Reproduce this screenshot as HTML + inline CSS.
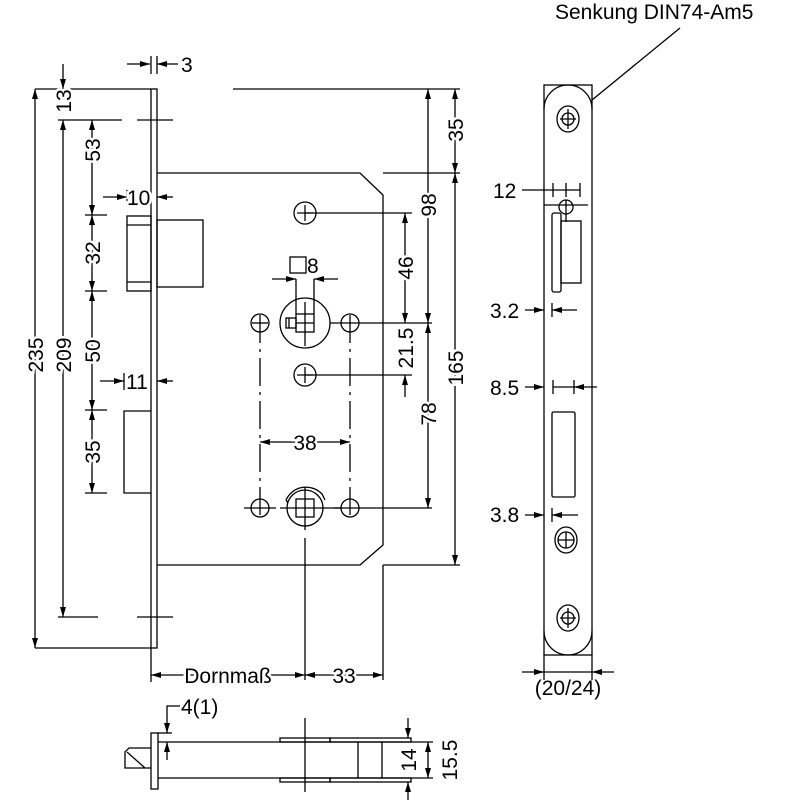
<!DOCTYPE html>
<html><head><meta charset="utf-8"><style>
html,body{margin:0;padding:0;background:#fff;}
svg{display:block;}
text{font-family:"Liberation Sans",sans-serif;font-size:21px;fill:#000;}
.t{paint-order:stroke;stroke:#fff;stroke-width:5px;}
</style></head><body>
<svg width="800" height="800" viewBox="0 0 800 800" xmlns="http://www.w3.org/2000/svg">
<defs>
<marker id="a" viewBox="0 0 10 6" refX="10" refY="3" markerWidth="10" markerHeight="6" markerUnits="userSpaceOnUse" orient="auto-start-reverse"><path d="M0,0 L10,3 L0,6z" fill="#000"/></marker>
</defs>
<g stroke="#000" stroke-width="1.3" fill="none">
<rect x="151" y="89" width="6" height="559"/>
<line x1="35" y1="648" x2="151" y2="648"/>
<line x1="35" y1="89" x2="151" y2="89"/>
<line x1="233" y1="89" x2="460" y2="89"/>
<path d="M157,173 H360 L383,195 V545 L360,565 H157"/>
<line x1="383" y1="173" x2="460" y2="173"/>
<line x1="383" y1="565" x2="460" y2="565"/>
<line x1="383" y1="565" x2="383" y2="680"/>
<rect x="127" y="216" width="24" height="75"/>
<line x1="127" y1="225" x2="151" y2="225"/><line x1="127" y1="282" x2="151" y2="282"/>
<rect x="157" y="220" width="46" height="67"/>
<path d="M151,411 H124 V493 H151"/>
<line x1="35" y1="89" x2="35" y2="648" marker-start="url(#a)" marker-end="url(#a)"/>
<line x1="63" y1="120" x2="63" y2="617" marker-start="url(#a)" marker-end="url(#a)"/>
<line x1="63" y1="64" x2="63" y2="89" marker-end="url(#a)"/>
<line x1="58" y1="120" x2="122" y2="120"/><line x1="137" y1="120" x2="173" y2="120"/>
<line x1="58" y1="617" x2="98" y2="617"/><line x1="137" y1="617" x2="173" y2="617"/>
<line x1="92" y1="120" x2="92" y2="215" marker-start="url(#a)" marker-end="url(#a)"/>
<line x1="92" y1="215" x2="92" y2="291" marker-start="url(#a)" marker-end="url(#a)"/>
<line x1="92" y1="291" x2="92" y2="410" marker-start="url(#a)" marker-end="url(#a)"/>
<line x1="92" y1="410" x2="92" y2="493" marker-start="url(#a)" marker-end="url(#a)"/>
<line x1="85" y1="215" x2="107" y2="215"/><line x1="85" y1="291" x2="107" y2="291"/>
<line x1="85" y1="410" x2="107" y2="410"/><line x1="85" y1="493" x2="107" y2="493"/>
<line x1="127" y1="64" x2="150" y2="64" marker-end="url(#a)"/>
<line x1="178" y1="64" x2="157" y2="64" marker-end="url(#a)"/>
<line x1="151" y1="56" x2="151" y2="74"/><line x1="157" y1="56" x2="157" y2="74"/>
<line x1="103" y1="197" x2="127" y2="197" marker-end="url(#a)"/>
<line x1="127" y1="190" x2="127" y2="205"/>
<line x1="173" y1="197" x2="157" y2="197" marker-end="url(#a)"/>
<line x1="100" y1="381" x2="124" y2="381" marker-end="url(#a)"/>
<line x1="124" y1="373" x2="124" y2="390"/>
<line x1="173" y1="381" x2="157" y2="381" marker-end="url(#a)"/>
<circle cx="305" cy="213" r="11"/><path d="M305,205v16M297,213h16"/>
<circle cx="305" cy="375" r="11"/><path d="M305,367v16M297,375h16"/>
<circle cx="260" cy="323" r="9"/><circle cx="350" cy="323" r="9"/>
<circle cx="260" cy="508" r="9"/><circle cx="350" cy="508" r="9"/>
<path d="M244,508h32M334,508h8"/>
<line x1="260" y1="315" x2="260" y2="520" stroke-dasharray="28,6,3,6"/>
<line x1="350" y1="315" x2="350" y2="520" stroke-dasharray="28,6,3,6"/>
<line x1="252" y1="323" x2="268" y2="323"/>
<line x1="305" y1="213" x2="412" y2="213"/>
<line x1="330" y1="323" x2="432" y2="323"/>
<line x1="305" y1="375" x2="412" y2="375"/>
<line x1="280" y1="508" x2="432" y2="508"/>
<circle cx="305" cy="323" r="25"/>
<rect x="296" y="314" width="18" height="18"/>
<path d="M305,302v44M296,323h18"/>
<rect x="286" y="318" width="10" height="10"/><line x1="289" y1="318" x2="289" y2="328"/>
<rect x="290" y="257" width="16" height="16"/>
<line x1="272" y1="279" x2="296" y2="279" marker-end="url(#a)"/>
<line x1="338" y1="279" x2="314" y2="279" marker-end="url(#a)"/>
<line x1="296" y1="279" x2="296" y2="314"/><line x1="314" y1="279" x2="314" y2="314"/>
<circle cx="305" cy="508" r="18"/>
<rect x="296" y="499" width="18" height="18"/>
<path d="M286,500 A22,22 0 0 1 322,494 L325,500"/>
<path d="M286,500 L288,503 M305,487 V530" />
<line x1="305" y1="538" x2="305" y2="680"/>
<line x1="260" y1="442" x2="350" y2="442" marker-start="url(#a)" marker-end="url(#a)"/>
<line x1="455" y1="89" x2="455" y2="173" marker-start="url(#a)" marker-end="url(#a)"/>
<line x1="455" y1="173" x2="455" y2="565" marker-start="url(#a)" marker-end="url(#a)"/>
<line x1="428" y1="89" x2="428" y2="323" marker-start="url(#a)" marker-end="url(#a)"/>
<line x1="428" y1="323" x2="428" y2="508" marker-start="url(#a)" marker-end="url(#a)"/>
<line x1="405" y1="213" x2="405" y2="323" marker-start="url(#a)" marker-end="url(#a)"/>
<line x1="405" y1="397" x2="405" y2="375" marker-end="url(#a)"/>
<line x1="151" y1="648" x2="151" y2="682"/>
<line x1="151" y1="675" x2="305" y2="675" marker-start="url(#a)" marker-end="url(#a)"/>
<line x1="305" y1="675" x2="383" y2="675" marker-start="url(#a)" marker-end="url(#a)"/>
<rect x="544" y="85" width="48" height="570"/>
<path d="M544,109 A24,24 0 0 1 592,109 M544,631 A24,24 0 0 0 592,631"/>
<ellipse cx="568" cy="119" rx="11" ry="13"/><circle cx="568" cy="119" r="6"/><path d="M568,109v20M560,119h16"/>
<ellipse cx="568" cy="618" rx="11" ry="13"/><circle cx="568" cy="618" r="6"/><path d="M568,608v20M560,618h16"/>
<ellipse cx="566" cy="540" rx="11" ry="13"/><circle cx="566" cy="540" r="8"/><path d="M566,532v16M558,540h16"/>
<line x1="592" y1="100" x2="680" y2="28"/>
<line x1="522" y1="190" x2="580" y2="190"/>
<path d="M553,183v14M566,183v14M580,183v14"/>
<line x1="544" y1="205" x2="588" y2="205"/>
<circle cx="566" cy="207" r="7"/><line x1="566" y1="200" x2="566" y2="222"/>
<rect x="552" y="213" width="9" height="79" rx="2"/>
<rect x="561" y="221" width="20" height="62"/>
<line x1="525" y1="310" x2="544" y2="310" marker-end="url(#a)"/>
<line x1="552" y1="303" x2="552" y2="317"/>
<line x1="577" y1="310" x2="552" y2="310" marker-end="url(#a)"/>
<line x1="525" y1="387" x2="544" y2="387" marker-end="url(#a)"/>
<path d="M553,380v14M574,380v14M553,387h21"/>
<line x1="597" y1="387" x2="574" y2="387" marker-end="url(#a)"/>
<rect x="552" y="412" width="23" height="85" rx="1.5"/>
<line x1="525" y1="515" x2="544" y2="515" marker-end="url(#a)"/>
<line x1="552" y1="508" x2="552" y2="522"/>
<line x1="578" y1="515" x2="552" y2="515" marker-end="url(#a)"/>
<line x1="544" y1="655" x2="544" y2="680"/><line x1="592" y1="655" x2="592" y2="680"/>
<line x1="522" y1="672" x2="544" y2="672" marker-end="url(#a)"/>
<line x1="614" y1="672" x2="592" y2="672" marker-end="url(#a)"/>
<line x1="544" y1="672" x2="592" y2="672"/>
<rect x="151" y="733" width="7" height="56"/>
<path d="M158,742 H411 M158,778 H411 M411,742 H433 M411,778 H433"/>
<path d="M151,748 H129 L125,752 V768 L141,768 M151,768 H141 M127,752 L145,768"/>
<rect x="280" y="738" width="50" height="4"/><rect x="280" y="778" width="50" height="4"/>
<rect x="330" y="738" width="81" height="4"/><rect x="330" y="778" width="81" height="4"/>
<line x1="305" y1="718" x2="305" y2="792"/>
<line x1="358" y1="742" x2="358" y2="778"/><line x1="382" y1="742" x2="382" y2="778"/>
<path d="M180,706 H167 V733" marker-end="url(#a)"/>
<line x1="158" y1="733" x2="172" y2="733"/>
<line x1="167" y1="760" x2="167" y2="742" marker-end="url(#a)"/>
<line x1="408" y1="718" x2="408" y2="738" marker-end="url(#a)"/>
<line x1="408" y1="800" x2="408" y2="782" marker-end="url(#a)"/>
<line x1="428" y1="742" x2="428" y2="778" marker-start="url(#a)" marker-end="url(#a)"/>
</g>
<g>
<text class="t" text-anchor="middle" transform="translate(43,355) rotate(-90)">235</text>
<text class="t" text-anchor="middle" transform="translate(71,355) rotate(-90)">209</text>
<text class="t" text-anchor="middle" transform="translate(71,101) rotate(-90)">13</text>
<text class="t" text-anchor="middle" transform="translate(100,150) rotate(-90)">53</text>
<text class="t" text-anchor="middle" transform="translate(100,253) rotate(-90)">32</text>
<text class="t" text-anchor="middle" transform="translate(100,351) rotate(-90)">50</text>
<text class="t" text-anchor="middle" transform="translate(100,452) rotate(-90)">35</text>
<text class="t" text-anchor="middle" transform="translate(463,130) rotate(-90)">35</text>
<text class="t" text-anchor="middle" transform="translate(436,205) rotate(-90)">98</text>
<text class="t" text-anchor="middle" transform="translate(413,268) rotate(-90)">46</text>
<text class="t" text-anchor="middle" transform="translate(413,348) rotate(-90)">21.5</text>
<text class="t" text-anchor="middle" transform="translate(436,414) rotate(-90)">78</text>
<text class="t" text-anchor="middle" transform="translate(463,368) rotate(-90)">165</text>
<text class="t" text-anchor="middle" transform="translate(416,760) rotate(-90)">14</text>
<text class="t" text-anchor="middle" transform="translate(457,760) rotate(-90)">15.5</text>
<text class="t" x="181" y="72">3</text>
<text class="t" x="127" y="205">10</text>
<text class="t" x="126" y="389">11</text>
<text x="307" y="273">8</text>
<text class="t" x="305" y="450" text-anchor="middle">38</text>
<text class="t" x="228" y="683" text-anchor="middle">Dornmaß</text>
<text class="t" x="344" y="683" text-anchor="middle">33</text>
<text x="181" y="714">4(1)</text>
<text x="555" y="19" font-size="18">Senkung DIN74-Am5</text>
<text x="493" y="198">12</text>
<text x="490" y="318">3.2</text>
<text x="490" y="395">8.5</text>
<text x="490" y="522">3.8</text>
<text x="568" y="695" text-anchor="middle">(20/24)</text>
</g>
</svg>
</body></html>
